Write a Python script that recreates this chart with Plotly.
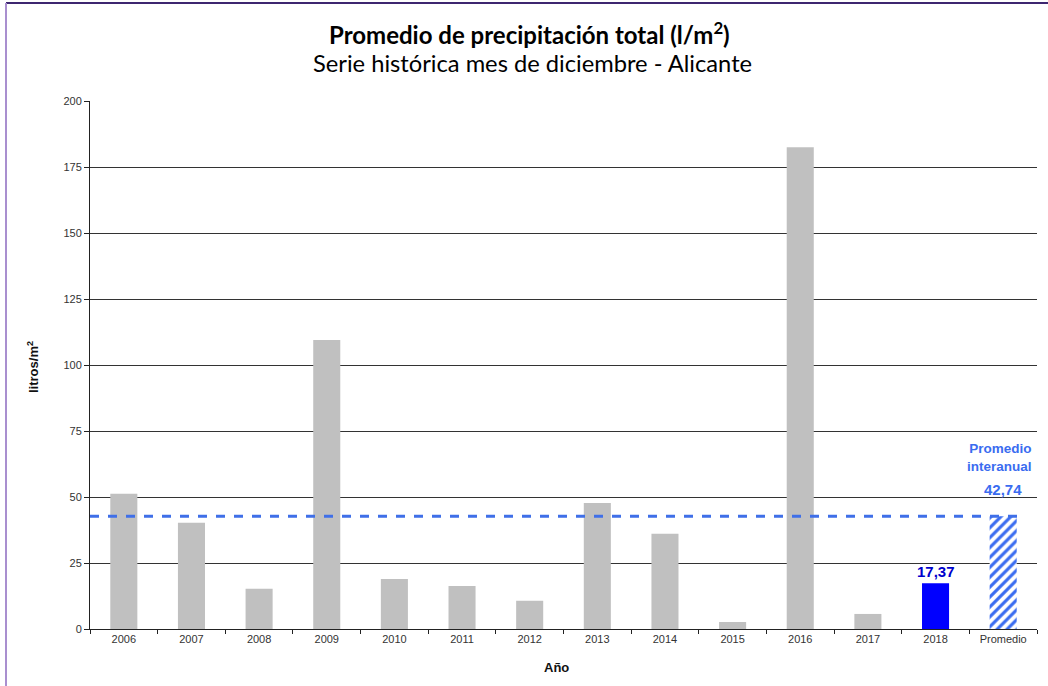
import plotly.graph_objects as go

categories = ["2006", "2007", "2008", "2009", "2010", "2011", "2012",
              "2013", "2014", "2015", "2016", "2017", "2018", "Promedio"]
values = [51.25, 40.27, 15.27, 109.5, 18.9, 16.3, 10.7,
          47.7, 36.1, 2.65, 182.5, 5.7, 17.37, 42.74]
current_value = 17.37
average_value = 42.74
current_label = "17,37"
average_label = "42,74"

L, R, T, B = 90, 11, 101, 57
W, H = 1048, 686
pw, ph = W - L - R, H - T - B

def px_x(x):
    return (x - L) / pw

def px_y(y):
    return (H - B - y) / ph

gray_cats = categories[:12]
gray_vals = values[:12]

fig = go.Figure()
fig.add_trace(go.Bar(x=gray_cats, y=gray_vals, marker=dict(color="#c0c0c0", line=dict(width=0))))
fig.add_trace(go.Bar(x=[categories[12]], y=[current_value], marker=dict(color="#0000ff", line=dict(width=0))))
fig.add_trace(go.Bar(x=[categories[13]], y=[average_value],
                     marker=dict(color="white", line=dict(width=0),
                                 pattern=dict(shape="/", fgcolor="#3a6cf0", bgcolor="white",
                                              fgopacity=1, size=7, solidity=0.45))))

fig.update_layout(
    width=W, height=H,
    margin=dict(l=L, r=R, t=T, b=B),
    paper_bgcolor="white", plot_bgcolor="white",
    showlegend=False,
    barmode="overlay",
    bargap=0.6,
    font=dict(family="Liberation Sans, Arial", size=11, color="#333333"),
)
fig.update_xaxes(type="category", categoryorder="array", categoryarray=categories,
                 showline=True, linecolor="#222222", linewidth=1,
                 ticks="outside", tickson="boundaries", ticklen=4, tickcolor="#222222",
                 tickfont=dict(size=11, color="#333333"), range=[-0.5, 13.5],
                 title=None)
fig.update_yaxes(range=[0, 200], dtick=25, showline=True, linecolor="#222222", linewidth=1,
                 ticks="outside", ticklen=5, tickcolor="#222222",
                 showgrid=True, gridcolor="#333333", gridwidth=1,
                 tickfont=dict(size=11, color="#333333"), zeroline=False, title=None)

# dashed average line
fig.add_shape(type="line", xref="x", yref="y", x0=-0.5, x1=13.3, y0=average_value, y1=average_value,
              line=dict(color="#3f6fe8", width=3, dash="9px,9px"), layer="above")

# border
fig.add_shape(type="line", xref="paper", yref="paper", x0=px_x(6), x1=px_x(1048), y0=px_y(3), y1=px_y(3),
              line=dict(color="#3d2670", width=2))
fig.add_shape(type="line", xref="paper", yref="paper", x0=px_x(6), x1=px_x(6), y0=px_y(3), y1=px_y(690),
              line=dict(color="#a98fcf", width=2))

ann = []
ann.append(dict(text="<b>Promedio de precipitación total (l/m<sup>2</sup>)</b>", x=px_x(529), y=px_y(33),
                xref="paper", yref="paper", showarrow=False, xanchor="center", yanchor="middle",
                font=dict(family="Lato", size=24, color="black")))
ann.append(dict(text="Serie histórica mes de diciembre - Alicante", x=px_x(532), y=px_y(63),
                xref="paper", yref="paper", showarrow=False, xanchor="center", yanchor="middle",
                font=dict(family="Lato", size=23.7, color="black")))
ann.append(dict(text="<b>litros/m<sup>2</sup></b>", x=px_x(33), y=px_y(367), textangle=-90,
                xref="paper", yref="paper", showarrow=False, xanchor="center", yanchor="middle",
                font=dict(family="Liberation Sans", size=13, color="#111111")))
ann.append(dict(text="<b>Año</b>", x=px_x(556), y=px_y(667),
                xref="paper", yref="paper", showarrow=False, xanchor="center", yanchor="middle",
                font=dict(family="Liberation Sans", size=13, color="#111111")))
ann.append(dict(text="<b>" + current_label + "</b>", x=12, y=current_value,
                xref="x", yref="y", showarrow=False, xanchor="center", yanchor="bottom", yshift=1,
                font=dict(family="Liberation Sans", size=15, color="#0000cc")))
ann.append(dict(text="<b>" + average_label + "</b>", x=13, y=average_value,
                xref="x", yref="y", showarrow=False, xanchor="center", yanchor="bottom", yshift=16,
                font=dict(family="Liberation Sans", size=15, color="#3a6cf0")))
ann.append(dict(text="<b>Promedio<br>interanual</b>", x=px_x(1034), y=px_y(457),
                xref="paper", yref="paper", showarrow=False, xanchor="right", yanchor="middle",
                align="right",
                font=dict(family="Liberation Sans", size=13.5, color="#3a6cf0")))
fig.update_layout(annotations=ann)

fig.write_html("out.html")
